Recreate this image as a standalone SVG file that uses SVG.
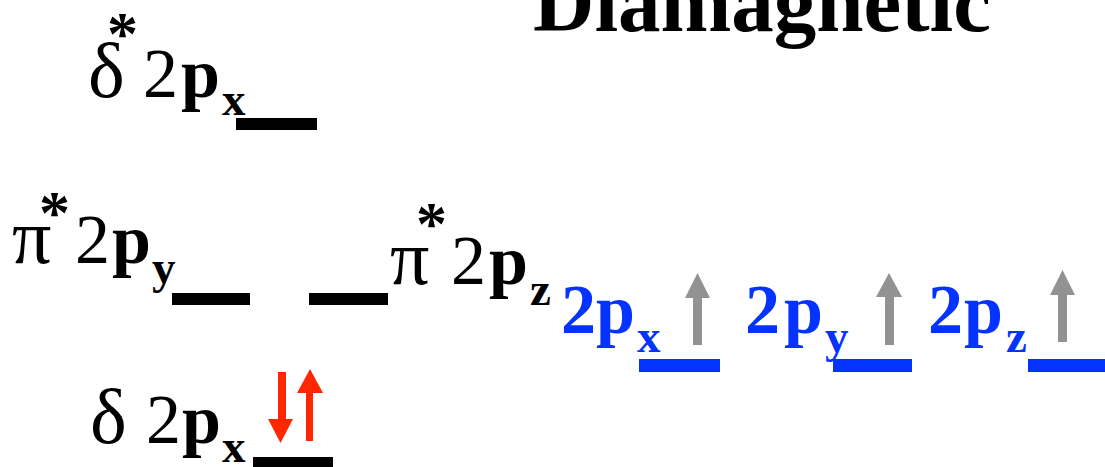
<svg xmlns="http://www.w3.org/2000/svg" width="1105" height="467" viewBox="0 0 1105 467">
<style>
.r{font-family:"Liberation Serif","Times New Roman",serif;font-size:70px;font-weight:normal;fill:#000}
.g{font-family:"Liberation Serif","Times New Roman",serif;font-size:78px;font-weight:normal;fill:#000}
.b{font-family:"Liberation Serif","Times New Roman",serif;font-size:70px;font-weight:bold;fill:#000}
.s{font-family:"Liberation Serif","Times New Roman",serif;font-size:47px;font-weight:bold;fill:#000}
.ast{font-family:"Liberation Serif","Times New Roman",serif;font-size:62px;font-weight:bold;fill:#000}
.blue{fill:#0433FF}
.bar{fill:#000}
.bbar{fill:#0433FF}
.ga{fill:#929292}
.ra{fill:#FF2600}
</style>
<rect width="1105" height="467" fill="#fff"/>
<g id="title">
<text x="533" y="31" class="b" style="font-size:85px">Diamagnetic</text>
</g>
<g id="sigma-star-2px">
<text x="88" y="97" class="g">δ</text>
<text x="107" y="54" class="ast">*</text>
<text x="143" y="97" class="r">2</text>
<text x="181" y="97" class="b">p</text>
<text x="222" y="115" class="s">x</text>
<rect x="236" y="118" width="81" height="12" class="bar"/>
</g>
<g id="pi-star-2py">
<text x="12" y="263" class="g">π</text>
<text x="39" y="233" class="ast">*</text>
<text x="75" y="263" class="r">2</text>
<text x="112" y="263" class="b">p</text>
<text x="152" y="283" class="s">y</text>
<rect x="172" y="293" width="78" height="12" class="bar"/>
</g>
<g id="pi-star-2pz">
<rect x="309" y="293" width="79" height="12" class="bar"/>
<text x="390" y="284" class="g">π</text>
<text x="416" y="244" class="ast">*</text>
<text x="451" y="284" class="r">2</text>
<text x="489" y="284" class="b">p</text>
<text x="530" y="305" class="s">z</text>
</g>
<g id="sigma-2px">
<text x="90" y="443" class="g">δ</text>
<text x="146" y="443" class="r">2</text>
<text x="182" y="443" class="b">p</text>
<text x="222" y="462" class="s">x</text>
<rect x="253" y="457" width="80" height="12" class="bar"/>
</g>
<g id="atom-2px">
<text x="561" y="333" class="b blue">2</text>
<text x="596" y="333" class="b blue">p</text>
<text x="637" y="352" class="s blue">x</text>
<rect x="639" y="359" width="81" height="13" class="bbar"/>
</g>
<g id="atom-2py">
<text x="745" y="333" class="b blue">2</text>
<text x="784" y="333" class="b blue">p</text>
<text x="825" y="352" class="s blue">y</text>
<rect x="833" y="359" width="79" height="13" class="bbar"/>
</g>
<g id="atom-2pz">
<text x="928" y="333" class="b blue">2</text>
<text x="964" y="333" class="b blue">p</text>
<text x="1006" y="352" class="s blue">z</text>
<rect x="1028" y="359" width="77" height="13" class="bbar"/>
</g>
<g id="connectors">
<g id="electrons">
<path class="ga" d="M693 297H702V345H693Z M685 298L697.5 273L710 298Z"/>
<path class="ga" d="M885 297H894V345H885Z M876 297L889 273L902 297Z"/>
<path class="ga" d="M1058 294H1067V342H1058Z M1050 295L1062.5 270L1075 295Z"/>
<path class="ra" d="M278 372H286V420H278Z M268 419L293 419L280.5 443Z"/>
<path class="ra" d="M306 392H313V441H306Z M297 393L310 369L323 393Z"/>
</g>
</g>
</svg>
